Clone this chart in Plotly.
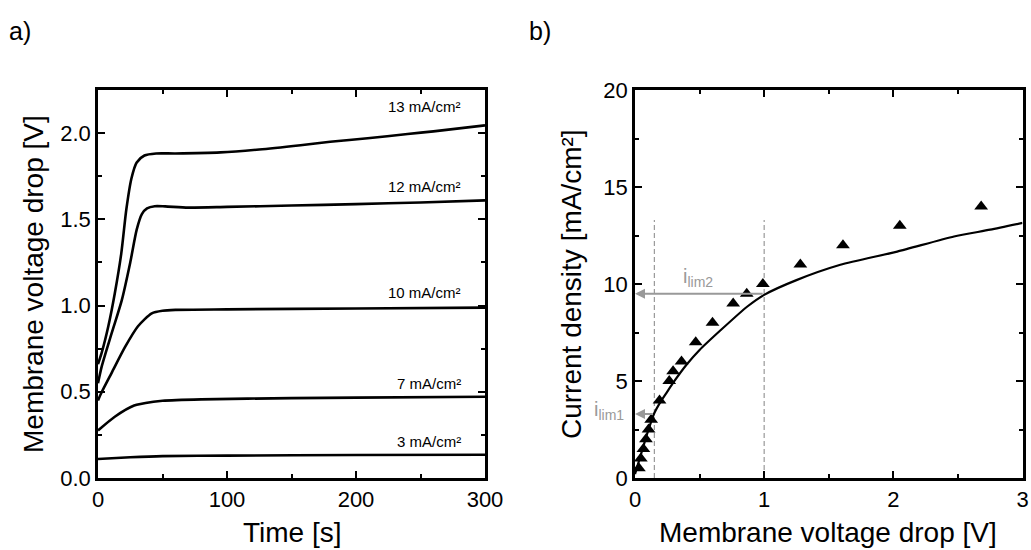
import plotly.graph_objects as go

# ---------- (a) chronopotentiometry: membrane voltage drop vs time ----------
current_labels = ["13 mA/cm²", "12 mA/cm²", "10 mA/cm²", "7 mA/cm²", "3 mA/cm²"]

t_13 = [0, 3, 8, 13, 18, 22, 26, 30, 36, 45, 60, 95, 125, 157, 180, 209, 240, 260, 300]
u_13 = [0.66, 0.73, 0.88, 1.07, 1.30, 1.56, 1.74, 1.83, 1.87, 1.882, 1.882, 1.888, 1.905,
        1.93, 1.95, 1.97, 1.995, 2.01, 2.045]

t_12 = [0, 3, 10.6, 18.4, 25, 30, 34, 38, 44, 52, 70, 100, 150, 200, 250, 300]
u_12 = [0.55, 0.65, 0.84, 1.03, 1.25, 1.44, 1.53, 1.563, 1.576, 1.575, 1.568, 1.572,
        1.58, 1.588, 1.598, 1.61]

t_10 = [0, 3, 10.6, 21, 31, 41.7, 50, 60, 100, 200, 300]
u_10 = [0.45, 0.50, 0.61, 0.76, 0.88, 0.955, 0.97, 0.975, 0.978, 0.983, 0.988]

t_7 = [0, 13, 28, 43, 50, 80, 150, 200, 300]
u_7 = [0.275, 0.355, 0.42, 0.442, 0.448, 0.456, 0.463, 0.466, 0.471]

t_3 = [0, 25, 50, 100, 200, 300]
u_3 = [0.11, 0.12, 0.127, 0.13, 0.133, 0.135]

label_t = [283, 283, 283, 283, 283]
label_u = [2.155, 1.69, 1.074, 0.55, 0.21]

# ---------- (b) current-voltage characteristic ----------
meas_u = [0.03, 0.045, 0.065, 0.085, 0.105, 0.125, 0.19, 0.265, 0.295, 0.36, 0.47,
          0.60, 0.76, 0.865, 0.99, 1.28, 1.61, 2.05, 2.68]
meas_i = [0.5, 1, 1.5, 2, 2.5, 3, 4, 5, 5.5, 6, 7, 8, 9, 9.5, 10, 11, 12, 13, 14]

model_u = [0, 0.05, 0.1, 0.15, 0.2, 0.25, 0.3, 0.4, 0.5, 0.66, 0.87, 1.0, 1.25, 1.59,
           2.03, 2.47, 2.75, 3.0]
model_i = [0.2, 1.3, 2.4, 3.35, 3.95, 4.45, 4.95, 5.85, 6.6, 7.6, 8.84, 9.44, 10.2, 10.99,
           11.67, 12.45, 12.8, 13.15]

ilim_names = ["i<sub>lim1</sub>", "i<sub>lim2</sub>"]
ilim_i = [3.3, 9.5]
ilim_u = [0.15, 1.0]
dash_top = 13.3

FONT = "Arial, Liberation Sans, sans-serif"
BLACK = "#000000"
GREY = "#999999"
W, H = 1031, 550

fig = go.Figure()

for t, u in [(t_13, u_13), (t_12, u_12), (t_10, u_10), (t_7, u_7), (t_3, u_3)]:
    fig.add_trace(go.Scatter(x=t, y=u, mode="lines", line=dict(color=BLACK, width=2.6,
                                                                 shape="spline", smoothing=0.7),
                             xaxis="x", yaxis="y", showlegend=False, hoverinfo="skip"))

# dashed guides at the limiting-current voltages
for uu in ilim_u:
    fig.add_trace(go.Scatter(x=[uu, uu], y=[0, dash_top], mode="lines",
                             line=dict(color=GREY, width=1.2, dash="5px,3px"),
                             xaxis="x2", yaxis="y2", showlegend=False, hoverinfo="skip"))

fig.add_trace(go.Scatter(x=model_u, y=model_i, mode="lines",
                         line=dict(color=BLACK, width=2.2, shape="spline", smoothing=0.6),
                         xaxis="x2", yaxis="y2", showlegend=False, hoverinfo="skip"))
fig.add_trace(go.Scatter(x=meas_u, y=meas_i, mode="markers",
                         marker=dict(symbol="triangle-up", size=12, color=BLACK),
                         xaxis="x2", yaxis="y2", showlegend=False, cliponaxis=False))

axis_common = dict(
    showline=True, linecolor=BLACK, linewidth=2.5, mirror="ticks",
    ticks="inside", ticklen=7, tickwidth=2, tickcolor=BLACK,
    showgrid=False, zeroline=False, automargin=False,
    tickfont=dict(family=FONT, size=22, color=BLACK),
)
minor_common = dict(ticks="inside", ticklen=4, tickwidth=2, tickcolor=BLACK)

annotations = []
for txt, tx, uy in zip(current_labels, label_t, label_u):
    annotations.append(dict(x=tx, y=uy, xref="x", yref="y", text=txt, showarrow=False,
                            xanchor="right", yanchor="middle",
                            font=dict(family=FONT, size=15, color=BLACK)))

# limiting current arrows pointing to the current axis
for ii, uu in zip(ilim_i, ilim_u):
    annotations.append(dict(x=0, y=ii, ax=uu, ay=ii, xref="x2", yref="y2",
                            axref="x2", ayref="y2", text="", showarrow=True,
                            arrowhead=2, arrowsize=1, arrowwidth=2, arrowcolor=GREY,
                            standoff=0, startstandoff=0))

annotations.append(dict(x=626 / W, y=1 - 410 / H, xref="paper", yref="paper",
                        text=ilim_names[0], showarrow=False, xanchor="right",
                        yanchor="middle", font=dict(family=FONT, size=20, color=GREY)))
annotations.append(dict(x=0.49, y=10.35, xref="x2", yref="y2", text=ilim_names[1],
                        showarrow=False, xanchor="center", yanchor="middle",
                        font=dict(family=FONT, size=20, color=GREY)))

title_font = dict(family=FONT, size=28, color=BLACK)
annotations += [
    dict(x=292 / W, y=1 - 532 / H, xref="paper", yref="paper", text="Time [s]",
         showarrow=False, xanchor="center", yanchor="middle", font=title_font),
    dict(x=828 / W, y=1 - 532 / H, xref="paper", yref="paper",
         text="Membrane voltage drop [V]", showarrow=False, xanchor="center",
         yanchor="middle", font=title_font),
    dict(x=33 / W, y=1 - 284 / H, xref="paper", yref="paper",
         text="Membrane voltage drop [V]", showarrow=False, textangle=-90,
         xanchor="center", yanchor="middle", font=title_font),
    dict(x=571 / W, y=1 - 284 / H, xref="paper", yref="paper",
         text="Current density [mA/cm²]", showarrow=False, textangle=-90,
         xanchor="center", yanchor="middle", font=title_font),
    dict(x=7 / W, y=1 - 31 / H, xref="paper", yref="paper", text="a)",
         showarrow=False, xanchor="left", yanchor="middle",
         font=dict(family=FONT, size=25, color=BLACK)),
    dict(x=527 / W, y=1 - 31 / H, xref="paper", yref="paper", text="b)",
         showarrow=False, xanchor="left", yanchor="middle",
         font=dict(family=FONT, size=25, color=BLACK)),
]

y_dom = [1 - 478 / H, 1 - 90 / H]
fig.update_layout(
    width=W, height=H,
    margin=dict(l=0, r=0, t=0, b=0),
    paper_bgcolor="white", plot_bgcolor="white",
    xaxis=dict(axis_common, domain=[98 / W, 485 / W], range=[0, 300],
               tickvals=[0, 100, 200, 300], minor=dict(minor_common, dtick=50)),
    yaxis=dict(axis_common, domain=y_dom, range=[0, 2.25], tickvals=[0, 0.5, 1.0, 1.5, 2.0],
               tickformat=".1f", minor=dict(minor_common, dtick=0.25)),
    xaxis2=dict(axis_common, domain=[635 / W, 1022.5 / W], range=[0, 3],
                tickvals=[0, 1, 2, 3], anchor="y2", minor=dict(minor_common, dtick=0.5)),
    yaxis2=dict(axis_common, domain=y_dom, range=[0, 20], tickvals=[0, 5, 10, 15, 20],
                anchor="x2", minor=dict(minor_common, dtick=2.5)),
    annotations=annotations,
)

fig.write_html("out.html")
